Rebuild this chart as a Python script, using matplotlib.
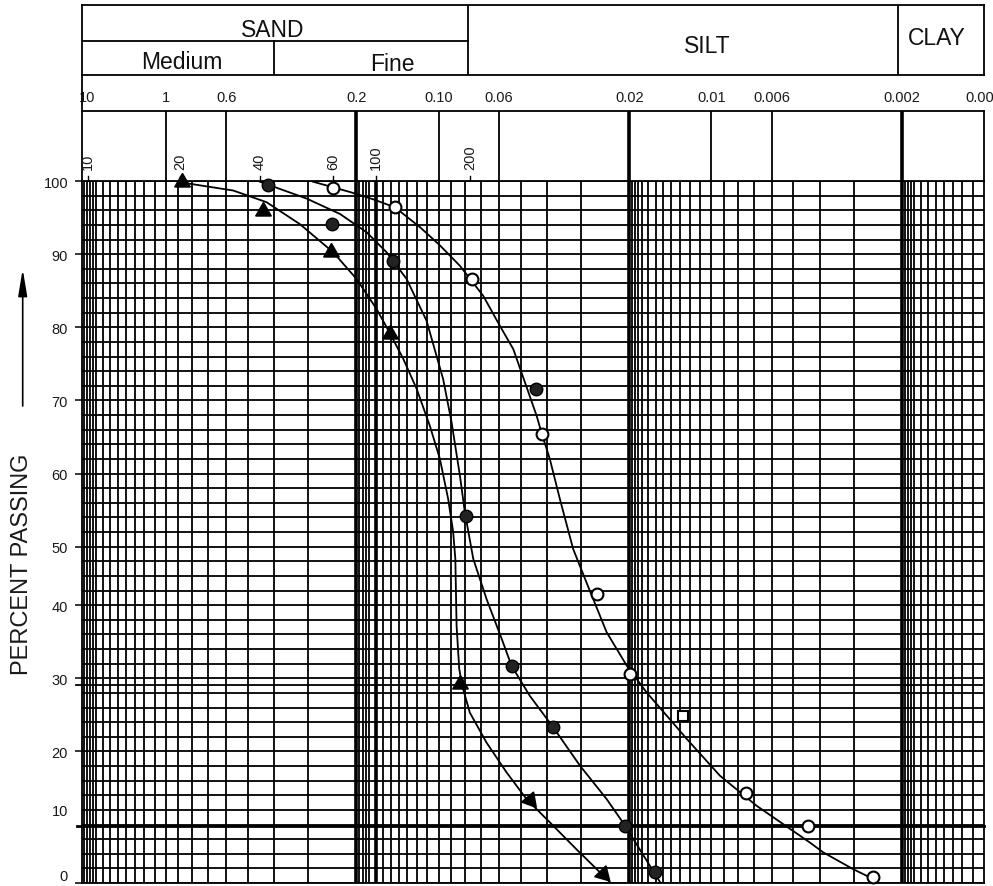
import numpy as np
import matplotlib
matplotlib.use("Agg")
import matplotlib.pyplot as plt
import matplotlib.transforms as mtransforms
from matplotlib.lines import Line2D
from matplotlib.ticker import NullLocator

plt.rcParams['font.family'] = ['Liberation Sans', 'DejaVu Sans']

W, H = 993, 887

# grain size (mm) and percent passing
tri_size = [0.876, 0.440, 0.249, 0.151, 0.0835, 0.0463, 0.0249]
tri_pass = [99.8, 95.9, 90.3, 79.1, 29.2, 11.7, 1.2]

dot_size = [0.4215, 0.2468, 0.1474, 0.0794, 0.0540, 0.0380, 0.0207, 0.0161, 0.0440]
dot_pass = [99.5, 94.1, 89.0, 54.2, 31.7, 23.3, 7.8, 1.5, 71.5]

ring_size = [0.2434, 0.1446, 0.0757, 0.0417, 0.0263, 0.0199, 0.0127, 0.00746, 0.00441, 0.00256]
ring_pass = [99.1, 96.4, 86.6, 65.4, 41.9, 30.6, 24.8, 12.8, 7.8, 0.8]

# hand drawn curves
curve_a_size = [0.876, 0.5665, 0.4272, 0.3225, 0.2434, 0.1998, 0.1688, 0.1509, 0.1348, 0.1204,
                0.1076, 0.0989, 0.0922, 0.0884, 0.0868, 0.0859, 0.0840, 0.0821, 0.0768, 0.0667,
                0.0563, 0.0476, 0.0391, 0.0312, 0.0235]
curve_a_pass = [99.8, 98.7, 97.1, 94.1, 90.25, 86.6, 82.5, 79.2, 75.7, 71.6,
                66.5, 62.0, 56.5, 52.0, 47.9, 37.2, 31.3, 29.1, 25.3, 21.2,
                16.4, 11.85, 8.3, 4.6, 0.1]

curve_b_size = [0.4520, 0.3048, 0.2301, 0.1837, 0.1551, 0.1310, 0.1107, 0.0962, 0.0896, 0.0835,
                0.0801, 0.0746, 0.0667, 0.0587, 0.0540, 0.0463, 0.0380, 0.0303, 0.0242, 0.0207,
                0.0183, 0.0154]
curve_b_pass = [99.9, 97.6, 95.5, 93.0, 90.25, 86.6, 80.9, 72.9, 67.0, 59.7,
                54.7, 47.9, 41.05, 35.4, 31.7, 27.6, 23.3, 17.55, 11.85, 7.84,
                4.6, 0.1]

curve_c_size = [0.2884, 0.2115, 0.1737, 0.1446, 0.1171, 0.0989, 0.0835, 0.0686, 0.0596, 0.0532,
                0.0490, 0.0437, 0.0418, 0.0391, 0.0359, 0.0321, 0.0287, 0.0242, 0.0204, 0.0173,
                0.0142, 0.0123, 0.00930, 0.00682, 0.00436, 0.00389, 0.00302, 0.00255]
curve_c_pass = [99.9, 98.5, 97.5, 96.4, 93.7, 91.2, 88.4, 84.3, 80.2, 77.0,
                73.2, 67.9, 65.4, 62.0, 56.5, 49.6, 43.9, 36.3, 31.7, 28.1,
                24.4, 21.7, 15.85, 10.7, 5.56, 4.2, 1.9, 0.55]

# axis labels
size_ticks = [2.03, 1, 0.6, 0.2, 0.1, 0.06, 0.02, 0.01, 0.006, 0.002, 0.001]
size_labels = ['10', '1', '0.6', '0.2', '0.10', '0.06', '0.02', '0.01', '0.006', '0.002', '0.001']
sieve_size = [1.93, 0.889, 0.452, 0.244, 0.170, 0.0768]
sieve_no = ['10', '20', '40', '60', '100', '200']
pass_ticks = [0, 10, 20, 30, 40, 50, 60, 70, 80, 90, 100]

# soil classes
sand_silt = 0.078
medium_fine = 0.40
silt_clay = 0.00207

# the paper has 48 equal rows; the percent labels are not evenly spread over them
pass_rows = [0, 5, 9, 14, 19, 23, 28, 33, 38, 43, 48]


def y_fwd(v):
    return np.interp(v, pass_ticks, pass_rows)


def y_inv(r):
    return np.interp(r, pass_rows, pass_ticks)


def box(left, top, right, bottom):
    return [left / W, 1 - bottom / H, (right - left) / W, (bottom - top) / H]


fig = plt.figure(figsize=(W / 100, H / 100), dpi=100)
ax = fig.add_axes(box(82, 182, 984, 884))
band = fig.add_axes(box(82, 112, 984, 182), sharex=ax)
head = fig.add_axes(box(82, 6, 984, 76), sharex=ax)

ax.set_xscale('log')
ax.set_xlim(2.03, 0.001)
ax.set_yscale('function', functions=(y_fwd, y_inv))
ax.set_ylim(0, 100)

# graph paper
grid_steps = [1.0, 1.1, 1.2, 1.3, 1.4, 1.5, 1.6, 1.7, 1.8, 1.85, 1.9, 1.95, 2, 3, 4, 5, 6, 7, 8, 9]
heavy = [0.2, 0.17, 0.02, 0.002]
for base in [1, 0.1, 0.01, 0.001]:
    for m in grid_steps:
        v = base * m
        if 0.001 < v < 2.03:
            ax.axvline(v, color='k', lw=1.3, zorder=1)
for v in heavy:
    ax.axvline(v, color='k', lw=2.6, zorder=1.5)
for r in range(49):
    ax.axhline(y_inv(r), color='k', lw=1.3, zorder=1)

# odd extra rules on the sheet
ax.plot([-0.0067, 0.998], [0.282, 0.282], transform=ax.transAxes, color='k', lw=1.3, clip_on=False)
ax.plot([-0.0055, 1.0], [0.0812, 0.0812], transform=ax.transAxes, color='k', lw=2.0, clip_on=False)

# curves and points
ax.plot(curve_a_size, curve_a_pass, color='k', lw=1.3, zorder=3)
ax.plot(curve_b_size, curve_b_pass, color='k', lw=1.3, zorder=3)
ax.plot(curve_c_size, curve_c_pass, color='k', lw=1.3, zorder=3)

tri_turn = [0, 0, 0, 0, 0, -140, -136]
for d, p, a in zip(tri_size, tri_pass, tri_turn):
    ax.plot(d, p, marker=(3, 0, a), ms=13, color='k', ls='none', zorder=4, clip_on=False)
ax.plot(dot_size, dot_pass, 'o', ms=9, mfc='#222222', mec='k', mew=1, zorder=4, clip_on=False)
ring_mark = ['o', 'o', 'o', 'o', 'o', 'o', 's', 'o', 'o', 'o']
for d, p, m in zip(ring_size, ring_pass, ring_mark):
    ax.plot(d, p, marker=m, ms=8.5 if m == 'o' else 7.5, mfc='white', mec='k', mew=1.5,
            ls='none', zorder=4, clip_on=False)

for s in ax.spines.values():
    s.set_linewidth(1.3)
ax.tick_params(axis='x', which='both', length=0, labelbottom=False)
ax.set_yticks(pass_ticks)
ax.set_yticklabels([str(v) for v in pass_ticks])
ax.yaxis.set_minor_locator(NullLocator())
ax.tick_params(axis='y', length=5, width=1.1, pad=5, labelsize=10.5, labelcolor='#1a1a1a')
ax.yaxis.get_major_ticks()[1].tick1line.set_visible(False)
zero_label = ax.yaxis.get_major_ticks()[0].label1
zero_label.set_va('bottom')

# band with size labels and sieve numbers
band.set_ylim(0, 1)
band.patch.set_visible(False)
band.spines['bottom'].set_visible(False)
for s in ['top', 'left', 'right']:
    band.spines[s].set_linewidth(1.3)
band.tick_params(axis='both', which='both', length=0, labelbottom=False, labelleft=False)
for v in size_ticks[1:-1]:
    band.axvline(v, color='k', lw=2.6 if v in heavy else 1.3)
tf = mtransforms.blended_transform_factory(band.transData, band.transAxes)
for i, (v, s) in enumerate(zip(size_ticks, size_labels)):
    t = tf if i > 0 else mtransforms.offset_copy(tf, fig=fig, x=4.7, units='dots')
    band.text(v, (182 - 102.5) / 70, s, transform=t, ha='center', va='baseline',
              fontsize=10.5, color='#1a1a1a')
for v, s in zip(sieve_size, sieve_no):
    band.text(v, 12 / 70, s, transform=tf, rotation=90, ha='center', va='bottom',
              fontsize=10.5, color='#1a1a1a')
    band.plot([v, v], [0, 5 / 70], transform=tf, color='k', lw=1.0)

# classification header
head.set_ylim(0, 1)
head.patch.set_visible(False)
for s in head.spines.values():
    s.set_linewidth(1.3)
head.tick_params(axis='both', which='both', length=0, labelbottom=False, labelleft=False)
head.axvline(sand_silt, color='k', lw=1.3)
head.axvline(silt_clay, color='k', lw=1.3)
head.plot([2.03, sand_silt], [0.481, 0.481], color='k', lw=1.3)
head.plot([medium_fine, medium_fine], [0, 0.481], color='k', lw=1.3)

for s, px, py in [('SAND', 273, 37.3), ('Medium', 182, 69.3), ('Fine', 392, 70.7),
                  ('SILT', 707, 53.3), ('CLAY', 937, 45)]:
    fig.text(px / W, 1 - py / H, s, ha='center', va='baseline', fontsize=16.5, color='#111111')

fig.add_artist(Line2D([82 / W, 82 / W], [1 - 76 / H, 1 - 112 / H], color='k', lw=1.3))

fig.text(22 / W, 1 - 564.5 / H, 'PERCENT PASSING', rotation=90, ha='center', va='center',
         fontsize=17, color='#1a1a1a')
ax.annotate('', xy=(22.7 / W, 1 - 270 / H), xytext=(22.7 / W, 1 - 407 / H),
            xycoords='figure fraction', textcoords='figure fraction',
            arrowprops=dict(arrowstyle='-|>,head_length=0.9,head_width=0.15',
                            lw=1.2, color='k', mutation_scale=18, shrinkA=0, shrinkB=0))

fig.savefig('out.png', dpi=100)
